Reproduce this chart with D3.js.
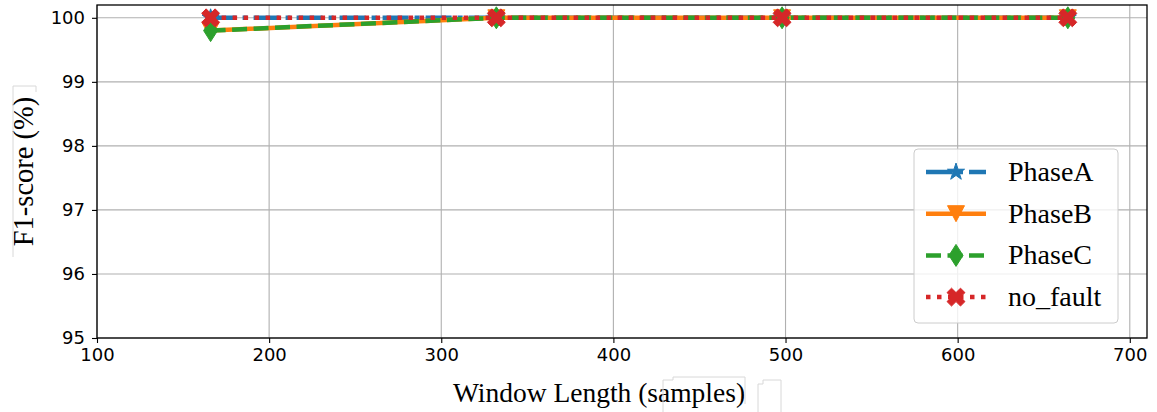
<!DOCTYPE html>
<html>
<head>
<meta charset="utf-8">
<script src="https://cdn.jsdelivr.net/npm/d3@7"></script>
<style>
  html, body { margin: 0; padding: 0; background: #fff; }
  svg { display: block; }
</style>
</head>
<body>
<svg id="chart" width="1157" height="412"></svg>
<script>
// Window lengths (samples) and F1-scores (%) per class
const windowLengths = [166, 332, 498, 664];
const phaseA  = [100, 100, 100, 100];
const phaseB  = [99.8, 100, 100, 100];
const phaseC  = [99.8, 100, 100, 100];
const noFault = [100, 100, 100, 100];
const xTicks = [100, 200, 300, 400, 500, 600, 700];
const yTicks = [95, 96, 97, 98, 99, 100];
const seriesNames = ["PhaseA", "PhaseB", "PhaseC", "no_fault"];

const svg = d3.select("#chart");
const L = 97, R = 1147, T = 5, B = 338;
const x = d3.scaleLinear().domain([100, 710]).range([L, R]);
const y = d3.scaleLinear().domain([95, 100.2]).range([B, T]);
const serif = "'Liberation Serif', 'Times New Roman', serif";

// marker shapes
function starPath(r) {
  const ri = r * 0.381966, pts = [];
  for (let i = 0; i < 10; i++) {
    const a = -Math.PI / 2 + i * Math.PI / 5;
    const rr = i % 2 ? ri : r;
    pts.push([rr * Math.cos(a), rr * Math.sin(a)]);
  }
  return "M" + pts.map(p => p.join(",")).join("L") + "Z";
}
function triDownPath(w, h) {
  return `M${-w/2},${-h/2}L${w/2},${-h/2}L0,${h/2}Z`;
}
function diamondPath(w, h) {
  return `M0,${-h/2}L${w/2},0L0,${h/2}L${-w/2},0Z`;
}
function xPath(s) {
  const base = [[-1,-3],[1,-3],[1,-1],[3,-1],[3,1],[1,1],[1,3],[-1,3],[-1,1],[-3,1],[-3,-1],[-1,-1]];
  const c = Math.SQRT1_2;
  const pts = base.map(([a, b]) => [(a * c - b * c) * s / 6, (a * c + b * c) * s / 6]);
  return "M" + pts.map(p => p.join(",")).join("L") + "Z";
}

const series = [
  { name: seriesNames[0], values: phaseA,  color: "#1f77b4", dash: "26,6,5,6", marker: () => starPath(9) },
  { name: seriesNames[1], values: phaseB,  color: "#ff7f0e", dash: null,       marker: () => triDownPath(17, 16) },
  { name: seriesNames[2], values: phaseC,  color: "#2ca02c", dash: "15,6.5",   marker: () => diamondPath(14, 22) },
  { name: seriesNames[3], values: noFault, color: "#d62728", dash: "4.5,6.5",  marker: () => xPath(19) },
];

// grid
const grid = svg.append("g");
grid.selectAll(".gx").data(xTicks).join("line")
  .attr("x1", d => x(d)).attr("x2", d => x(d)).attr("y1", T).attr("y2", B)
  .attr("stroke", "#b0b0b0").attr("stroke-width", 1.1);
grid.selectAll(".gy").data(yTicks).join("line")
  .attr("x1", L).attr("x2", R).attr("y1", d => y(d)).attr("y2", d => y(d))
  .attr("stroke", "#b0b0b0").attr("stroke-width", 1.1);

// lines and markers
const line = d3.line().x((d, i) => x(windowLengths[i])).y(d => y(d));
series.forEach(s => {
  svg.append("path").datum(s.values)
    .attr("d", line).attr("fill", "none")
    .attr("stroke", s.color).attr("stroke-width", 4.5)
    .attr("stroke-dasharray", s.dash);
  svg.selectAll(null).data(s.values).join("path")
    .attr("transform", (d, i) => `translate(${x(windowLengths[i])},${y(d)})`)
    .attr("d", s.marker()).attr("fill", s.color)
    .attr("stroke", s.color).attr("stroke-width", 1);
});

// spines
svg.append("rect").attr("x", L).attr("y", T).attr("width", R - L).attr("height", B - T)
  .attr("fill", "none").attr("stroke", "#000").attr("stroke-width", 1.3);

// axes
const xAxis = d3.axisBottom(x).tickValues(xTicks).tickFormat(d3.format("d")).tickSize(5).tickPadding(5);
const yAxis = d3.axisLeft(y).tickValues(yTicks).tickFormat(d3.format("d")).tickSize(5).tickPadding(7);
const gx = svg.append("g").attr("transform", `translate(0,${B})`).call(xAxis);
const gy = svg.append("g").attr("transform", `translate(${L},0)`).call(yAxis);
[gx, gy].forEach(g => {
  g.select(".domain").remove();
  g.selectAll(".tick line").attr("stroke", "#000").attr("stroke-width", 1.1);
  g.selectAll(".tick text").attr("fill", "#000")
    .style("font-family", "'DejaVu Sans', sans-serif").style("font-size", "18px");
});

// axis titles
svg.append("text").attr("x", 599).attr("y", 402).attr("text-anchor", "middle")
  .style("font-family", serif).style("font-size", "27.5px")
  .text("Window Length (samples)");
svg.append("text").attr("transform", `translate(33,${(T + B) / 2}) rotate(-90)`)
  .attr("text-anchor", "middle")
  .style("font-family", serif).style("font-size", "28.5px")
  .text("F1-score (%)");

// faint text frames around titles
const frames = svg.append("g").attr("fill", "none").attr("stroke", "#d8d8d8").attr("stroke-width", 1);
frames.append("path").attr("d", "M13,257L13,86L36,86L36,92");
frames.append("path").attr("d", "M663,412L663,380L673,380L673,377L745,377L745,404");
frames.append("path").attr("d", "M758,412L758,384L763,384L763,380L781,380L781,412");

// legend
const lg = svg.append("g");
lg.append("rect").attr("x", 914).attr("y", 149).attr("width", 204).attr("height", 174)
  .attr("rx", 4).attr("fill", "#fff").attr("fill-opacity", 0.8)
  .attr("stroke", "#cccccc").attr("stroke-width", 1);
series.forEach((s, i) => {
  const cy = 172 + i * 41.7;
  const g = lg.append("g");
  g.append("line").attr("x1", 926).attr("x2", 986).attr("y1", cy).attr("y2", cy)
    .attr("stroke", s.color).attr("stroke-width", 4.5).attr("stroke-dasharray", s.dash);
  g.append("path").attr("transform", `translate(956,${cy})`).attr("d", s.marker())
    .attr("fill", s.color).attr("stroke", s.color).attr("stroke-width", 1);
  g.append("text").attr("x", 1008).attr("y", cy + 9)
    .style("font-family", serif).style("font-size", "28px")
    .text(s.name);
});
</script>
</body>
</html>
